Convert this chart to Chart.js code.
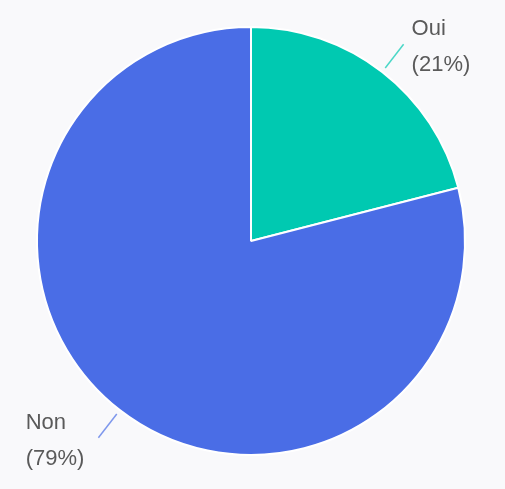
<!DOCTYPE html>
<html>
<head>
<meta charset="utf-8">
<script src="https://cdn.jsdelivr.net/npm/chart.js@4"></script>
<style>
    html, body { margin: 0; padding: 0; background: #f9f9fb; }
    #wrap { width: 505px; height: 489px; }
</style>
</head>
<body>
<div id="wrap"><canvas id="pieChart"></canvas></div>
<script>
// chart data
const labels = ['Oui', 'Non'];
const values = [21, 79];
const colors = ['#00c9b1', '#4a6de6'];

// draws the outside labels with a short leader line per slice
const outsideLabels = {
    id: 'outsideLabels',
    afterDatasetsDraw(chart) {
        const ctx = chart.ctx;
        const meta = chart.getDatasetMeta(0);
        const total = values.reduce((a, b) => a + b, 0);
        ctx.save();
        meta.data.forEach((arc, i) => {
            const mid = (arc.startAngle + arc.endAngle) / 2;
            const r = arc.outerRadius;
            const x1 = arc.x + Math.cos(mid) * (r + 5);
            const y1 = arc.y + Math.sin(mid) * (r + 5);
            const x2 = arc.x + Math.cos(mid) * (r + 35);
            const y2 = arc.y + Math.sin(mid) * (r + 35);

            ctx.strokeStyle = colors[i];
            ctx.globalAlpha = 0.7;
            ctx.lineWidth = 1.5;
            ctx.beginPath();
            ctx.moveTo(x1, y1);
            ctx.lineTo(x2, y2);
            ctx.stroke();
            ctx.globalAlpha = 1;

            const right = Math.cos(mid) >= 0;
            const pct = Math.round(values[i] / total * 100);
            const lines = [labels[i], '(' + pct + '%)'];
            ctx.fillStyle = '#5a5a5a';
            ctx.font = '22px "Liberation Sans", Arial, sans-serif';
            ctx.textAlign = 'left';
            ctx.textBaseline = 'middle';
            const w = Math.max(...lines.map(t => ctx.measureText(t).width));
            const tx = right ? x2 + 8 : x2 - 14 - w;
            ctx.fillText(lines[0], tx, y2 - 15);
            ctx.fillText(lines[1], tx, y2 + 21);
        });
        ctx.restore();
    }
};

const ctx = document.getElementById('pieChart').getContext('2d');
const chart = new Chart(ctx, {
    type: 'pie',
    data: {
        labels: labels,
        datasets: [{
            data: values,
            backgroundColor: colors,
            borderColor: '#ffffff',
            borderWidth: 2
        }]
    },
    options: {
        responsive: true,
        maintainAspectRatio: false,
        animation: false,
        layout: {
            padding: { top: 26, bottom: 33, left: 36, right: 39 }
        },
        plugins: {
            legend: { display: false },
            tooltip: { enabled: false }
        }
    },
    plugins: [outsideLabels]
});
</script>
</body>
</html>
